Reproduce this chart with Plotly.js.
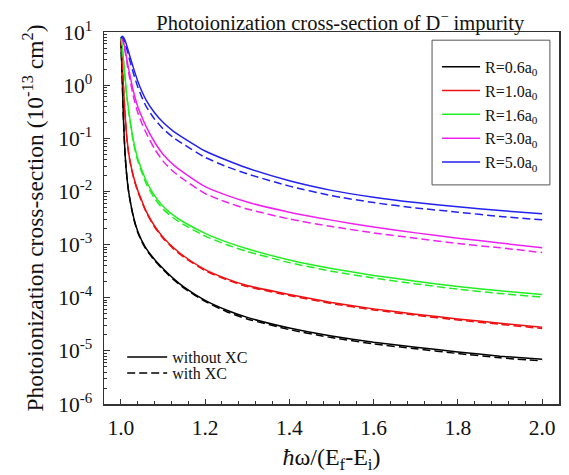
<!DOCTYPE html>
<html>
<head>
<meta charset="utf-8">
<script src="https://cdn.plot.ly/plotly-3.0.1.min.js"></script>
<style>html,body{margin:0;padding:0;background:#fff;}#chart{width:569px;height:475px;}</style>
</head>
<body>
<div id="chart"></div>
<script>
// photon energy ratio  ħω/(Ef-Ei)
const xVals = [1.0, 1.003, 1.006, 1.01, 1.015, 1.02, 1.03, 1.04, 1.05, 1.06, 1.08, 1.1, 1.125, 1.15, 1.2, 1.25, 1.3, 1.4, 1.5, 1.6, 1.7, 1.8, 1.9, 2.0];

// log10 of cross-section (10^-13 cm^2), without XC
const logR06 = [0.85, 0.2, -0.6, -1.3, -1.78, -2.08, -2.48, -2.75, -2.93, -3.07, -3.28, -3.45, -3.64, -3.8, -4.05, -4.23, -4.37, -4.57, -4.72, -4.84, -4.93, -5.02, -5.10, -5.16];
const logR10 = [0.88, 0.5, 0.0, -0.55, -1.05, -1.35, -1.72, -1.98, -2.18, -2.37, -2.65, -2.86, -3.06, -3.22, -3.47, -3.64, -3.77, -3.94, -4.09, -4.21, -4.31, -4.40, -4.48, -4.555];
const logR16 = [0.9, 0.75, 0.5, 0.15, -0.25, -0.55, -1.05, -1.38, -1.6, -1.8, -2.08, -2.28, -2.45, -2.58, -2.79, -2.95, -3.08, -3.29, -3.45, -3.58, -3.69, -3.79, -3.87, -3.94];
const logR30 = [0.9, 0.9, 0.82, 0.68, 0.45, 0.25, -0.12, -0.4, -0.6, -0.78, -1.07, -1.3, -1.5, -1.65, -1.91, -2.07, -2.2, -2.39, -2.54, -2.67, -2.78, -2.88, -2.97, -3.06];
const logR50 = [0.88, 0.92, 0.9, 0.84, 0.72, 0.58, 0.32, 0.08, -0.12, -0.28, -0.52, -0.7, -0.87, -1.0, -1.24, -1.41, -1.56, -1.8, -1.98, -2.11, -2.21, -2.29, -2.36, -2.42];

// log10 of cross-section, with XC
const logR06xc = [0.85, 0.2, -0.61, -1.31, -1.79, -2.09, -2.5, -2.77, -2.95, -3.09, -3.3, -3.47, -3.66, -3.82, -4.07, -4.26, -4.40, -4.60, -4.75, -4.87, -4.96, -5.05, -5.13, -5.19];
const logR10xc = [0.88, 0.5, -0.01, -0.56, -1.07, -1.37, -1.74, -2.0, -2.2, -2.39, -2.67, -2.88, -3.08, -3.24, -3.49, -3.66, -3.79, -3.96, -4.11, -4.23, -4.33, -4.42, -4.50, -4.58];
const logR16xc = [0.9, 0.74, 0.48, 0.12, -0.28, -0.59, -1.09, -1.42, -1.65, -1.85, -2.13, -2.33, -2.5, -2.63, -2.84, -3.0, -3.13, -3.34, -3.5, -3.63, -3.74, -3.84, -3.92, -3.99];
const logR30xc = [0.9, 0.89, 0.8, 0.64, 0.39, 0.17, -0.22, -0.51, -0.72, -0.9, -1.2, -1.43, -1.63, -1.78, -2.04, -2.2, -2.33, -2.52, -2.66, -2.78, -2.88, -2.98, -3.06, -3.15];
const logR50xc = [0.88, 0.91, 0.87, 0.79, 0.65, 0.5, 0.22, -0.03, -0.23, -0.4, -0.64, -0.82, -0.99, -1.12, -1.36, -1.53, -1.67, -1.9, -2.08, -2.21, -2.31, -2.39, -2.47, -2.535];

const seriesNames = ['R=0.6a<sub>0</sub>', 'R=1.0a<sub>0</sub>', 'R=1.6a<sub>0</sub>', 'R=3.0a<sub>0</sub>', 'R=5.0a<sub>0</sub>'];
const seriesColors = ['#000000', '#ee1111', '#22ee22', '#ee22ee', '#2222ee'];
const solidSets = [logR06, logR10, logR16, logR30, logR50];
const dashedSets = [logR06xc, logR10xc, logR16xc, logR30xc, logR50xc];

const xTickVals = [1.0, 1.2, 1.4, 1.6, 1.8, 2.0];
const xTickText = ['1.0', '1.2', '1.4', '1.6', '1.8', '2.0'];
const yTickVals = [1e-6, 1e-5, 1e-4, 1e-3, 1e-2, 1e-1, 1e0, 1e1];
const yTickText = ['10<sup>-6</sup>', '10<sup>-5</sup>', '10<sup>-4</sup>', '10<sup>-3</sup>', '10<sup>-2</sup>', '10<sup>-1</sup>', '10<sup>0</sup>', '10<sup>1</sup>'];

const toVal = arr => arr.map(v => Math.pow(10, v));

const traces = [];
solidSets.forEach((s, i) => {
  traces.push({x: xVals, y: toVal(s), type: 'scatter', mode: 'lines', name: seriesNames[i],
    line: {color: seriesColors[i], width: 1.5, shape: 'spline', smoothing: 0.5}, legend: 'legend'});
});
dashedSets.forEach((s, i) => {
  traces.push({x: xVals, y: toVal(s), type: 'scatter', mode: 'lines', showlegend: false,
    line: {color: seriesColors[i], width: 1.5, dash: '8px,4px', shape: 'spline', smoothing: 0.5}});
});
// style key entries
traces.push({x: [null], y: [null], type: 'scatter', mode: 'lines', name: 'without XC', legend: 'legend2',
  line: {color: '#000', width: 1.5}});
traces.push({x: [null], y: [null], type: 'scatter', mode: 'lines', name: 'with XC', legend: 'legend3',
  line: {color: '#000', width: 1.5, dash: '8px,4px'}});

const serif = "'Liberation Serif', 'Times New Roman', Times, serif";
const layout = {
  width: 569, height: 475,
  margin: {l: 104, r: 10, t: 32, b: 71},
  paper_bgcolor: '#fff', plot_bgcolor: '#fff',
  font: {family: serif, color: '#111'},
  title: {text: 'Photoionization cross-section of D<sup>\u2212</sup> impurity', font: {family: serif, size: 20.5, color: '#111'},
    x: 0.598, xanchor: 'center', y: 0.952, yanchor: 'middle'},
  xaxis: {
    range: [0.96, 2.04], tickmode: 'array', tickvals: xTickVals, ticktext: xTickText,
    ticks: 'inside', ticklen: 5, tickcolor: '#333', tickwidth: 1, ticklabelstandoff: 4,
    minor: {tickmode: 'linear', tick0: 1.0, dtick: 0.04, ticks: 'inside', ticklen: 3, tickcolor: '#333', showgrid: false},
    showgrid: false, zeroline: false, showline: true, linecolor: '#333', linewidth: 1.5, mirror: true,
    tickfont: {family: serif, size: 21.5, color: '#111'},
    title: {text: '<i>ħ</i>ω/(E<sub>f</sub>-E<sub>i</sub>)', font: {family: serif, size: 24, color: '#111'}, standoff: 9}
  },
  yaxis: {
    type: 'log', range: [-6, 1], tickmode: 'array', tickvals: yTickVals, ticktext: yTickText,
    ticks: 'inside', ticklen: 6, tickcolor: '#333', tickwidth: 1, ticklabelstandoff: 6,
    minor: {dtick: 'D1', ticks: 'inside', ticklen: 3, tickcolor: '#333', showgrid: false},
    showgrid: false, zeroline: false, showline: true, linecolor: '#333', linewidth: 1.5, mirror: true,
    tickfont: {family: serif, size: 21.5, color: '#111'},
    title: {text: 'Photoionization cross-section (10<sup>-13</sup> cm<sup>2</sup>)', font: {family: serif, size: 23.5, color: '#111'}, standoff: 8}
  },
  shapes: [{type: 'rect', xref: 'paper', yref: 'paper', x0: 0.721, x1: 0.980, y0: 0.589, y1: 0.978,
    line: {color: '#555', width: 1}, fillcolor: '#fff', layer: 'above'}],
  legend: {x: 0.732, xanchor: 'left', y: 0.952, yanchor: 'top', bgcolor: 'rgba(0,0,0,0)', borderwidth: 0,
    font: {family: serif, size: 16, color: '#111'}, itemwidth: 38, tracegroupgap: 0},
  legend2: {x: 0.04, xanchor: 'left', y: 0.126, yanchor: 'middle', bgcolor: 'rgba(0,0,0,0)', borderwidth: 0,
    font: {family: serif, size: 16, color: '#111'}, itemwidth: 40},
  legend3: {x: 0.04, xanchor: 'left', y: 0.083, yanchor: 'middle', bgcolor: 'rgba(0,0,0,0)', borderwidth: 0,
    font: {family: serif, size: 16, color: '#111'}, itemwidth: 40},
  showlegend: true
};

Plotly.newPlot('chart', traces, layout, {displayModeBar: false, staticPlot: true});
</script>
</body>
</html>
